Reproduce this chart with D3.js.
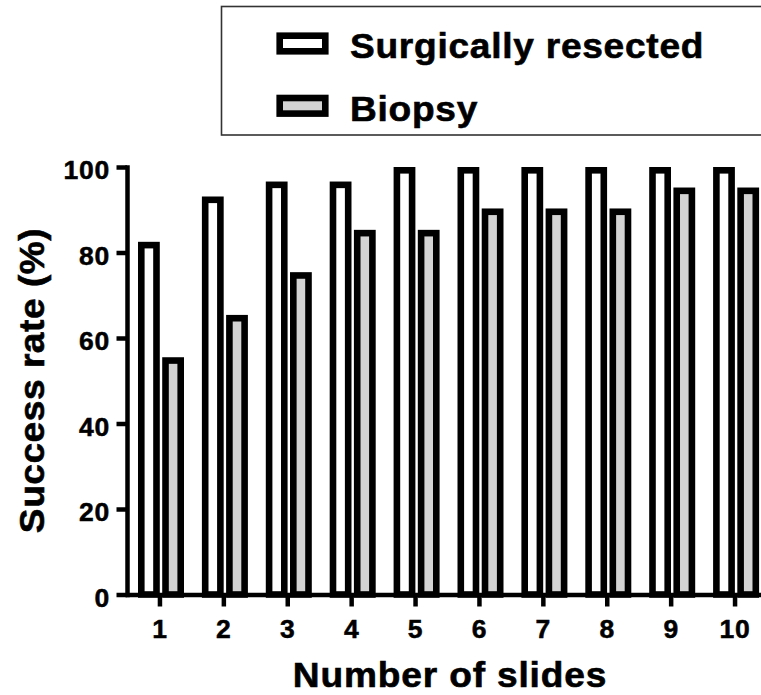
<!DOCTYPE html>
<html>
<head>
<meta charset="utf-8">
<script src="https://cdn.jsdelivr.net/npm/d3@7"></script>
<style>
  body { margin: 0; background: #fff; }
  svg { display: block; }
  text { font-family: "Liberation Sans", Arial, Helvetica, sans-serif; font-weight: bold; }
</style>
</head>
<body>
<div id="chart"></div>
<script>
var svgWidth = 761;
var svgHeight = 695;

// data
var slides = ["1", "2", "3", "4", "5", "6", "7", "8", "9", "10"];
var seriesNames = ["Surgically resected", "Biopsy"];
var seriesFill = ["#ffffff", "#d3d3d3"];
var resected = [82.5, 93.1, 96.6, 96.6, 100, 100, 100, 100, 100, 100];
var biopsy = [55.5, 65.4, 75.4, 85.3, 85.3, 90.3, 90.3, 90.3, 95.2, 95.2];
var yTicks = [0, 20, 40, 60, 80, 100];

var rows = slides.map(function(s, i) {
  return { slide: s, values: [resected[i], biopsy[i]] };
});

var svg = d3.select("#chart")
  .append("svg")
  .attr("width", svgWidth)
  .attr("height", svgHeight);

var axisX = 127;
var bw = 6.6; // bar border
var stretch = 1.06; // glyphs in the original are a bit wider than Liberation Sans

var xScale = d3.scaleBand()
  .domain(slides)
  .range([128, 767]);

var xSub = d3.scaleBand()
  .domain([0, 1])
  .range([10, 56])
  .paddingInner(0.1);

var yScale = d3.scaleLinear()
  .domain([0, 100])
  .range([594.5, 167]);

// bars
var groups = svg.append("g").selectAll("g")
  .data(rows)
  .enter()
  .append("g")
  .attr("transform", d => `translate(${xScale(d.slide)},0)`);

groups.selectAll("rect")
  .data(d => d.values.map((v, k) => ({ k: k, v: v })))
  .enter()
  .append("rect")
  .attr("x", d => xSub(d.k) + bw / 2)
  .attr("width", xSub.bandwidth() - bw)
  .attr("y", d => yScale(d.v) + bw / 2)
  .attr("height", d => yScale(0) - yScale(d.v) - bw / 2)
  .attr("fill", d => seriesFill[d.k])
  .attr("stroke", "#000")
  .attr("stroke-width", bw);

// axes
var bottomAxis = d3.axisBottom(xScale)
  .tickSize(12)
  .tickSizeOuter(0)
  .tickPadding(13);

var leftAxis = d3.axisLeft(yScale)
  .tickValues(yTicks)
  .tickSize(10.5)
  .tickSizeOuter(0)
  .tickPadding(6.5);

var xAxis = svg.append("g")
  .attr("transform", `translate(0, ${yScale(0)})`)
  .call(bottomAxis);

var yAxis = svg.append("g")
  .attr("transform", `translate(${axisX}, 0)`)
  .call(leftAxis);

[xAxis, yAxis].forEach(function(ax) {
  ax.select(".domain")
    .attr("stroke", "#000")
    .attr("stroke-width", 4.5)
    .attr("stroke-linecap", "square");
  ax.selectAll(".tick line")
    .attr("stroke", "#000")
    .attr("stroke-width", 4.5);
  ax.selectAll(".tick text")
    .attr("fill", "#000")
    .attr("stroke", "#000")
    .attr("stroke-width", 0.5)
    .style("font-size", "26.5px")
    .style("font-family", "'Liberation Sans', Arial, Helvetica, sans-serif")
    .style("font-weight", "bold")
    .style("letter-spacing", "0.8px");
});
yAxis.selectAll(".tick text").attr("dy", "0.44em");

// axis titles
svg.append("text")
  .attr("transform", `translate(450, 686.5) scale(${stretch}, 1)`)
  .attr("text-anchor", "middle")
  .attr("stroke", "#000")
  .attr("stroke-width", 0.6)
  .style("font-size", "35px")
  .style("letter-spacing", "0.8px")
  .text("Number of slides");

svg.append("text")
  .attr("transform", `translate(43.5, 380.5) rotate(-90) scale(${stretch}, 1)`)
  .attr("text-anchor", "middle")
  .attr("stroke", "#000")
  .attr("stroke-width", 0.6)
  .style("font-size", "35px")
  .style("letter-spacing", "0.5px")
  .text("Success rate (%)");

// legend
var legend = svg.append("g");

legend.append("rect")
  .attr("x", 221.5)
  .attr("y", 6.5)
  .attr("width", 600)
  .attr("height", 128.5)
  .attr("fill", "#fff")
  .attr("stroke", "#333")
  .attr("stroke-width", 1.6);

var legendRows = legend.selectAll("g.item")
  .data(seriesNames)
  .enter()
  .append("g")
  .attr("class", "item")
  .attr("transform", (d, i) => `translate(0, ${i * 62.3})`);

legendRows.append("rect")
  .attr("x", 279.7)
  .attr("y", 35.7)
  .attr("width", 45.6)
  .attr("height", 15.6)
  .attr("fill", (d, i) => seriesFill[i])
  .attr("stroke", "#000")
  .attr("stroke-width", bw);

legendRows.append("text")
  .attr("transform", `translate(350, 58.3) scale(${stretch}, 1)`)
  .attr("stroke", "#000")
  .attr("stroke-width", 0.6)
  .style("font-size", "35px")
  .style("letter-spacing", "0.7px")
  .text(d => d);
</script>
</body>
</html>
